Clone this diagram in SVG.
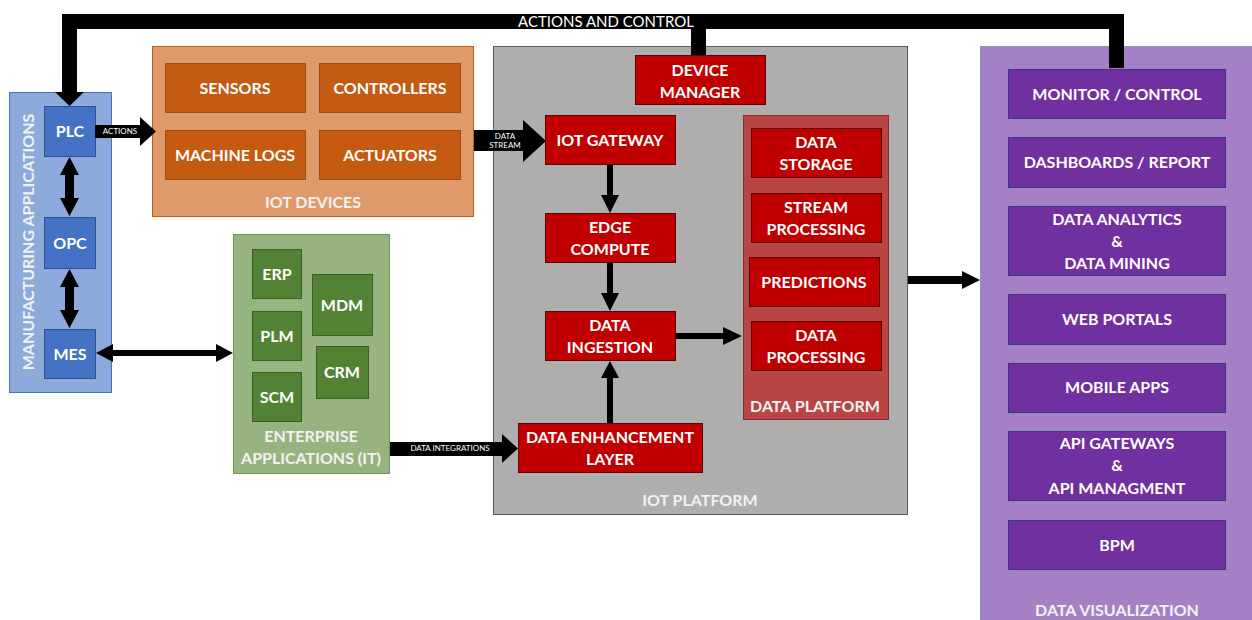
<svg xmlns="http://www.w3.org/2000/svg" width="1252" height="620" viewBox="0 0 1252 620">
  <style>
    text { font-family: Lato, "Open Sans", "Liberation Sans", sans-serif; fill: #ffffff; text-anchor: middle; }
    .b { font-weight: bold; font-size: 16px; }
    .cl { font-weight: bold; font-size: 16px; fill: #f2f2f2; }
    .sm { font-size: 8px; }
    .bus { font-size: 15px; }
    .mfg { fill: #8eaadb; stroke: #4472c4; stroke-width: 1; }
    .blue { fill: #4472c4; stroke: #2f528f; stroke-width: 1; }
    .iotdev { fill: #de9a6b; stroke: #c55a11; stroke-width: 1; }
    .orange { fill: #c55a11; stroke: #a54a0e; stroke-width: 1; }
    .plat { fill: #aeaeae; stroke: #595959; stroke-width: 1; }
    .red { fill: #c00000; stroke: #5c0000; stroke-width: 1; }
    .dplat { fill: #b94545; stroke: #8b2c2c; stroke-width: 1; }
    .ent { fill: #97b480; stroke: #6b9a4e; stroke-width: 1; }
    .green { fill: #548235; stroke: #3b5e25; stroke-width: 1; }
    .vis { fill: #a680c4; stroke: #8497b0; stroke-width: 1; }
    .purple { fill: #7030a0; stroke: #2e3a87; stroke-width: 1; }
    .arr { fill: #000000; }
  </style>

  <!-- Manufacturing applications -->
  <g id="manufacturing">
    <rect class="mfg" x="9.5" y="92.5" width="102" height="300"/>
    <text class="cl" transform="translate(34,242) rotate(-90)">MANUFACTURING APPLICATIONS</text>
  </g>
  <g id="plc"><rect class="blue" x="44.5" y="106.5" width="51" height="50"/><text class="b" x="70" y="137">PLC</text></g>
  <g id="opc"><rect class="blue" x="44.5" y="217.5" width="51" height="51"/><text class="b" x="70" y="249">OPC</text></g>
  <g id="mes"><rect class="blue" x="44.5" y="329.5" width="51" height="49"/><text class="b" x="70" y="360">MES</text></g>

  <!-- IoT devices -->
  <g id="iot-devices">
    <rect class="iotdev" x="152.5" y="46.5" width="321" height="170"/>
    <text class="cl" x="313" y="208">IOT DEVICES</text>
  </g>
  <g id="sensors"><rect class="orange" x="165.5" y="63.5" width="140" height="49"/><text class="b" x="235" y="94">SENSORS</text></g>
  <g id="controllers"><rect class="orange" x="319.5" y="63.5" width="141" height="49"/><text class="b" x="390" y="94">CONTROLLERS</text></g>
  <g id="machine-logs"><rect class="orange" x="165.5" y="130.5" width="140" height="49"/><text class="b" x="235" y="161">MACHINE LOGS</text></g>
  <g id="actuators"><rect class="orange" x="319.5" y="130.5" width="141" height="49"/><text class="b" x="390" y="161">ACTUATORS</text></g>

  <!-- Enterprise applications -->
  <g id="enterprise">
    <rect class="ent" x="233.5" y="234.5" width="156" height="239"/>
    <text class="cl" x="311" y="442">ENTERPRISE</text>
    <text class="cl" x="311" y="464">APPLICATIONS (IT)</text>
  </g>
  <g id="erp"><rect class="green" x="252.5" y="249.5" width="49" height="49"/><text class="b" x="277" y="280">ERP</text></g>
  <g id="plm"><rect class="green" x="252.5" y="311.5" width="49" height="49"/><text class="b" x="277" y="342">PLM</text></g>
  <g id="scm"><rect class="green" x="252.5" y="372.5" width="49" height="49"/><text class="b" x="277" y="403">SCM</text></g>
  <g id="mdm"><rect class="green" x="312.5" y="274.5" width="60" height="61"/><text class="b" x="342" y="311">MDM</text></g>
  <g id="crm"><rect class="green" x="316.5" y="346.5" width="52" height="52"/><text class="b" x="342" y="378">CRM</text></g>

  <!-- IoT platform -->
  <g id="iot-platform">
    <rect class="plat" x="493.5" y="46.5" width="414" height="468"/>
    <text class="cl" x="700" y="506">IOT PLATFORM</text>
  </g>
  <g id="device-manager"><rect class="red" x="635.5" y="55.5" width="130" height="49"/><text class="b" x="700" y="76">DEVICE</text><text class="b" x="700" y="98">MANAGER</text></g>
  <g id="iot-gateway"><rect class="red" x="545.5" y="115.5" width="130" height="49"/><text class="b" x="610" y="146">IOT GATEWAY</text></g>
  <g id="edge-compute"><rect class="red" x="545.5" y="213.5" width="130" height="49"/><text class="b" x="610" y="233">EDGE</text><text class="b" x="610" y="255">COMPUTE</text></g>
  <g id="data-ingestion"><rect class="red" x="545.5" y="311.5" width="130" height="49"/><text class="b" x="610" y="331">DATA</text><text class="b" x="610" y="353">INGESTION</text></g>
  <g id="data-enhancement"><rect class="red" x="518.5" y="423.5" width="184" height="49"/><text class="b" x="610" y="443">DATA ENHANCEMENT</text><text class="b" x="610" y="465">LAYER</text></g>

  <!-- Data platform -->
  <g id="data-platform">
    <rect class="dplat" x="743.5" y="115.5" width="145" height="304"/>
    <text class="cl" x="815" y="412">DATA PLATFORM</text>
  </g>
  <g id="data-storage"><rect class="red" x="751.5" y="128.5" width="130" height="49"/><text class="b" x="816" y="148">DATA</text><text class="b" x="816" y="170">STORAGE</text></g>
  <g id="stream-processing"><rect class="red" x="751.5" y="193.5" width="130" height="49"/><text class="b" x="816" y="213">STREAM</text><text class="b" x="816" y="235">PROCESSING</text></g>
  <g id="predictions"><rect class="red" x="749.5" y="257.5" width="130" height="49"/><text class="b" x="814" y="288">PREDICTIONS</text></g>
  <g id="data-processing"><rect class="red" x="751.5" y="321.5" width="130" height="49"/><text class="b" x="816" y="341">DATA</text><text class="b" x="816" y="363">PROCESSING</text></g>

  <!-- Data visualization -->
  <g id="data-visualization">
    <rect class="vis" x="980.5" y="46.5" width="290" height="600"/>
    <text class="cl" x="1117" y="616">DATA VISUALIZATION</text>
  </g>
  <g id="monitor-control"><rect class="purple" x="1008.5" y="69.5" width="217" height="49"/><text class="b" x="1117" y="100">MONITOR / CONTROL</text></g>
  <g id="dashboards"><rect class="purple" x="1008.5" y="137.5" width="217" height="50"/><text class="b" x="1117" y="168">DASHBOARDS / REPORT</text></g>
  <g id="analytics"><rect class="purple" x="1008.5" y="206.5" width="217" height="69"/><text class="b" x="1117" y="225">DATA ANALYTICS</text><text class="b" x="1117" y="247">&amp;</text><text class="b" x="1117" y="269">DATA MINING</text></g>
  <g id="web-portals"><rect class="purple" x="1008.5" y="294.5" width="217" height="50"/><text class="b" x="1117" y="325">WEB PORTALS</text></g>
  <g id="mobile-apps"><rect class="purple" x="1008.5" y="363.5" width="217" height="49"/><text class="b" x="1117" y="393">MOBILE APPS</text></g>
  <g id="api"><rect class="purple" x="1008.5" y="431.5" width="217" height="69"/><text class="b" x="1117" y="449">API GATEWAYS</text><text class="b" x="1117" y="471">&amp;</text><text class="b" x="1117" y="494">API MANAGMENT</text></g>
  <g id="bpm"><rect class="purple" x="1008.5" y="520.5" width="217" height="49"/><text class="b" x="1117" y="551">BPM</text></g>

  <!-- Connectors -->
  <g id="connectors">
    <!-- actions and control bus -->
    <path d="M1116.5 68 V21.5 H69.5 V93" fill="none" stroke="#000" stroke-width="15" stroke-linejoin="miter"/>
    <path d="M698.5 21.5 V55" fill="none" stroke="#000" stroke-width="15"/>
    <polygon class="arr" points="55,92 84,92 69.5,106"/>
    <text class="bus" x="606" y="27">ACTIONS AND CONTROL</text>

    <!-- PLC <-> OPC -->
    <polygon class="arr" points="69.5,157 79,175 74,175 74,198 79,198 69.5,216 60,198 65,198 65,175 60,175"/>
    <!-- OPC <-> MES -->
    <polygon class="arr" points="69.5,269 79,287 74,287 74,310 79,310 69.5,328 60,310 65,310 65,287 60,287"/>
    <!-- MES <-> Enterprise -->
    <polygon class="arr" points="96,353 113,344 113,350 216,350 216,344 233,353 216,362 216,356 113,356 113,362"/>

    <!-- PLC actions -->
    <polygon class="arr" points="95,125 140,125 140,117 156,131.5 140,146 140,138 95,138"/>
    <text class="sm" x="120" y="134">ACTIONS</text>

    <!-- data stream -->
    <polygon class="arr" points="474,130 523,130 523,120 546,141 523,162 523,151 474,151"/>
    <text class="sm" x="505" y="139">DATA</text>
    <text class="sm" x="505" y="148">STREAM</text>

    <!-- data integrations -->
    <polygon class="arr" points="390,442 502,442 502,434 518,448.5 502,463 502,456 390,456"/>
    <text class="sm" x="450" y="451">DATA INTEGRATIONS</text>

    <!-- gateway -> edge -->
    <polygon class="arr" points="607,165 613,165 613,195 619,195 610,213 601,195 607,195"/>
    <!-- edge -> ingestion -->
    <polygon class="arr" points="607,263 613,263 613,293 619,293 610,311 601,293 607,293"/>
    <!-- enhancement -> ingestion -->
    <polygon class="arr" points="607,423 613,423 613,378 619,378 610,361 601,378 607,378"/>
    <!-- ingestion -> data platform -->
    <polygon class="arr" points="676,333 723,333 723,327 742,336 723,345 723,339 676,339"/>
    <!-- platform -> visualization -->
    <polygon class="arr" points="908,276 962,276 962,271 980,280 962,289 962,284 908,284"/>
  </g>
</svg>
